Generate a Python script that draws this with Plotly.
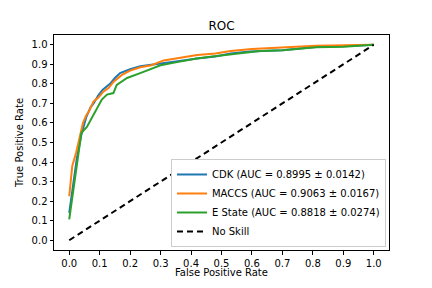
import plotly.graph_objects as go

cdk_fpr = [0, 0.014, 0.025, 0.04, 0.056, 0.07, 0.08, 0.095, 0.11, 0.134, 0.15, 0.167, 0.2, 0.233, 0.27, 0.31, 0.35, 0.42, 0.48, 0.53, 0.593, 0.7, 0.81, 0.9, 1.0]
cdk_tpr = [0.14, 0.31, 0.42, 0.54, 0.63, 0.68, 0.70, 0.74, 0.77, 0.80, 0.83, 0.855, 0.875, 0.89, 0.897, 0.908, 0.915, 0.93, 0.94, 0.955, 0.965, 0.972, 0.988, 0.992, 1.0]

maccs_fpr = [0, 0.01, 0.023, 0.03, 0.038, 0.045, 0.056, 0.065, 0.08, 0.096, 0.112, 0.13, 0.145, 0.173, 0.2, 0.233, 0.27, 0.31, 0.35, 0.42, 0.48, 0.53, 0.6, 0.7, 0.81, 0.9, 1.0]
maccs_tpr = [0.225, 0.38, 0.45, 0.5, 0.55, 0.6, 0.64, 0.66, 0.71, 0.73, 0.76, 0.78, 0.81, 0.846, 0.868, 0.885, 0.895, 0.92, 0.93, 0.948, 0.955, 0.968, 0.978, 0.985, 0.995, 0.997, 1.0]

estate_fpr = [0, 0.02, 0.04, 0.058, 0.075, 0.09, 0.107, 0.124, 0.145, 0.156, 0.19, 0.233, 0.27, 0.3, 0.35, 0.418, 0.47, 0.528, 0.593, 0.626, 0.7, 0.81, 0.9, 1.0]
estate_tpr = [0.107, 0.33, 0.55, 0.58, 0.63, 0.67, 0.72, 0.745, 0.753, 0.795, 0.83, 0.855, 0.875, 0.895, 0.91, 0.93, 0.94, 0.951, 0.965, 0.968, 0.972, 0.987, 0.99, 1.0]

noskill_x = [0, 1]
noskill_y = [0, 1]

labels = ["CDK (AUC = 0.8995 ± 0.0142)", "MACCS (AUC = 0.9063 ± 0.0167)",
          "E State (AUC = 0.8818 ± 0.0274)", "No Skill"]
colors = ["#1f77b4", "#ff7f0e", "#2ca02c", "black"]
ticks = [0.0, 0.1, 0.2, 0.3, 0.4, 0.5, 0.6, 0.7, 0.8, 0.9, 1.0]
tick_text = [f"{t:.1f}" for t in ticks]

fig = go.Figure()
for xs, ys, lab, col in [(cdk_fpr, cdk_tpr, labels[0], colors[0]),
                         (maccs_fpr, maccs_tpr, labels[1], colors[1]),
                         (estate_fpr, estate_tpr, labels[2], colors[2])]:
    fig.add_trace(go.Scatter(x=xs, y=ys, mode="lines", name=lab,
                             line=dict(color=col, width=2)))
fig.add_trace(go.Scatter(x=noskill_x, y=noskill_y, mode="lines", name=labels[3],
                         line=dict(color=colors[3], width=2, dash="6px,4px")))

axis_common = dict(range=[-0.05, 1.05], tickvals=ticks, ticktext=tick_text,
                   showline=True, mirror=True, linecolor="black", linewidth=1,
                   ticks="outside", ticklen=3.5, tickcolor="black", showgrid=False,
                   zeroline=False, tickfont=dict(size=10, color="black"),
                   automargin=False)

H = 272
fig.update_layout(
    width=416, height=H,
    margin=dict(l=46, r=35, t=27, b=30),
    paper_bgcolor="white", plot_bgcolor="white",
    font=dict(family="DejaVu Sans", size=10, color="black"),
    title=dict(text="ROC", x=0.5, xref="paper", xanchor="center",
               yref="paper", y=1, yanchor="bottom", pad=dict(b=5),
               font=dict(size=12)),
    xaxis=dict(**axis_common),
    yaxis=dict(title=dict(text="True Positive Rate", standoff=6, font=dict(size=10)), **axis_common),
    legend=dict(x=0.991, y=0.014, xanchor="right", yanchor="bottom",
                bgcolor="white", bordercolor="#cccccc", borderwidth=1,
                font=dict(size=10), tracegroupgap=0, itemwidth=30),
    showlegend=True,
)
fig.add_annotation(text="False Positive Rate", xref="paper", yref="paper",
                   x=0.5, y=0, xanchor="center", yanchor="bottom", yshift=-30,
                   showarrow=False, font=dict(size=10))

fig.write_html("out.html")
